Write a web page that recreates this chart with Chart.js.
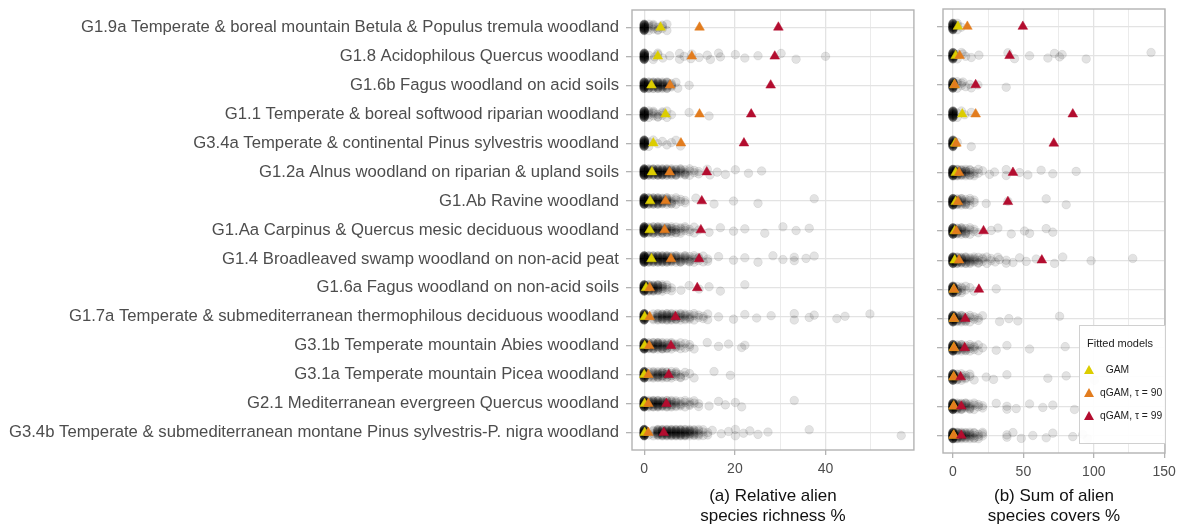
<!DOCTYPE html>
<html>
<head>
<meta charset="utf-8">
<script src="https://cdn.jsdelivr.net/npm/chart.js@4.4.0/dist/chart.umd.min.js"></script>
<style>
  html, body { margin: 0; padding: 0; background: #fff; }
  #wrap { position: relative; width: 1177px; height: 529px; overflow: hidden; font-family: 'Liberation Sans', Arial, sans-serif; }
  #cRich { position: absolute; left: 0; top: 0; }
  #cCover { position: absolute; left: 920px; top: 0; }
  #legend { position: absolute; left: 1079px; top: 325px; width: 85px; height: 117px; border: 1px solid #d0d0d0; background: rgba(255,255,255,0.92); }
  #legend .ttl { position: absolute; left: 7px; top: 11px; font-size: 11px; color: #1a1a1a; }
  #legend .item { position: absolute; left: 4px; height: 14px; font-size: 10.3px; color: #222; line-height: 14px; white-space: nowrap; }
  #legend .tri { display: inline-block; width: 0; height: 0; border-left: 5px solid transparent; border-right: 5px solid transparent; border-bottom-width: 9px; border-bottom-style: solid; vertical-align: -1px; margin-right: 6px; }
</style>
</head>
<body>
<div id="wrap">
  <canvas id="cRich" width="920" height="529"></canvas>
  <canvas id="cCover" width="257" height="529"></canvas>
  <div id="legend">
    <div class="ttl">Fitted models</div>
    <div class="item" style="top:37px"><span class="tri" style="border-bottom-color:#dccd00"></span>&nbsp;&nbsp;GAM</div>
    <div class="item" style="top:60px"><span class="tri" style="border-bottom-color:#e27c1e"></span>qGAM, τ = 90</div>
    <div class="item" style="top:83px"><span class="tri" style="border-bottom-color:#b30d2f"></span>qGAM, τ = 99</div>
  </div>
</div>
<script>
var HABITATS = [
  'G1.9a Temperate & boreal mountain Betula & Populus tremula woodland',
  'G1.8 Acidophilous Quercus woodland',
  'G1.6b Fagus woodland on acid soils',
  'G1.1 Temperate & boreal softwood riparian woodland',
  'G3.4a Temperate & continental Pinus sylvestris woodland',
  'G1.2a Alnus woodland on riparian & upland soils',
  'G1.Ab Ravine woodland',
  'G1.Aa Carpinus & Quercus mesic deciduous woodland',
  'G1.4 Broadleaved swamp woodland on non-acid peat',
  'G1.6a Fagus woodland on non-acid soils',
  'G1.7a Temperate & submediterranean thermophilous deciduous woodland',
  'G3.1b Temperate mountain Abies woodland',
  'G3.1a Temperate mountain Picea woodland',
  'G2.1 Mediterranean evergreen Quercus woodland',
  'G3.4b Temperate & submediterranean montane Pinus sylvestris-P. nigra woodland'
];

// (a) relative alien species richness %
// plot counts read per 1 % bin (0, 1, 2, ...), plus single plots further out
var RICH_BIN = 1;
var RICH_COUNTS = [
  [30, 4, 4, 3, 3, 2],
  [30, 1, 1, 1],
  [30, 11, 12, 12, 11, 9, 4, 1],
  [30, 4, 4, 3, 3, 2, 1],
  [30, 2, 1, 1, 1, 1, 1, 1, 1],
  [35, 14, 15, 15, 14, 12, 10, 8, 6, 5, 3, 2, 2],
  [35, 12, 13, 12, 10, 8, 5, 3, 2, 2],
  [35, 9, 10, 10, 9, 8, 7, 5, 4, 3, 2, 2, 1],
  [35, 12, 13, 13, 13, 12, 10, 8, 7, 6, 5, 4, 3, 2, 2],
  [35, 11, 12, 10, 6, 3, 2],
  [35, 0, 4, 8, 9, 9, 8, 7, 6, 5, 4, 3, 2, 2, 2],
  [35, 9, 10, 10, 9, 7, 5, 4, 3, 2, 2, 1],
  [35, 4, 7, 8, 8, 6, 5, 4, 3, 2, 1, 1],
  [40, 9, 12, 12, 10, 9, 7, 5, 4, 3, 3, 2, 2],
  [40, 1, 4, 12, 13, 13, 13, 13, 12, 11, 9, 7, 5, 3, 2, 1]
];
var RICH_SINGLE = [
  [],
  [2.3, 3, 4.1, 5.6, 7.8, 7.8, 8.8, 10.3, 10.5, 12.1, 13.9, 14.6, 16.4, 16.8, 20.1, 22.2, 25.1, 30.2, 33.5, 40],
  [7.4, 9.9],
  [9.9, 14.3],
  [],
  [13.9, 14.5, 16.1, 17.9, 20.1, 23, 25.9],
  [11.4, 15.4, 19.7, 25.1, 37.5],
  [14.3, 16.8, 19.7, 22.2, 26.6, 30.6, 33.5, 36.4],
  [16.4, 19.7, 22.2, 25.1, 28.4, 30.6, 33.1, 33.1, 35.7, 37.5],
  [8.1, 9.9, 12.1, 14.3, 16.8, 22.2],
  [16.4, 19.7, 22.2, 24.8, 28, 33.1, 33.1, 36.4, 37.5, 42.5, 44.3, 49.8],
  [13.9, 16.4, 18.6, 21.5, 22.2],
  [15.4, 19],
  [14.3, 16.4, 17.9, 20.1, 21.5, 33.1],
  [17, 18.6, 20.1, 20.1, 21.9, 23.3, 25.1, 27.3, 36.4, 56.7]
];
var RICH_GAM = [3.6, 3.0, 1.6, 4.7, 2.0, 1.7, 1.3, 1.2, 1.6, 0.4, 0.1, 0.1, 0.0, 0.1, 0.1];
var RICH_Q90 = [12.2, 10.5, 5.7, 12.2, 8.1, 5.6, 4.7, 4.5, 5.9, 1.2, 1.2, 1.1, 0.9, 0.9, 0.9];
var RICH_Q99 = [29.6, 28.8, 27.9, 23.6, 22.0, 13.8, 12.7, 12.5, 12.1, 11.7, 6.9, 5.9, 5.4, 4.9, 4.3];

// (b) sum of alien species covers %, bins of 3 %
var COVER_BIN = 3;
var COVER_COUNTS = [
  [30, 3, 1],
  [30, 2, 1, 1],
  [30, 3, 2, 1, 1],
  [30, 2, 1],
  [30, 1],
  [35, 12, 9, 7, 5, 3, 2, 1],
  [35, 9, 7, 5, 3, 2],
  [35, 9, 7, 5, 3, 2, 1],
  [35, 12, 10, 8, 6, 5, 4, 3, 2, 2, 1, 1],
  [35, 6, 4, 2, 1, 1],
  [35, 9, 7, 5, 3, 2, 2, 1],
  [35, 9, 7, 5, 4, 3, 2, 1],
  [35, 7, 4, 3, 2, 1],
  [40, 10, 8, 6, 5, 3, 2, 2],
  [40, 12, 10, 8, 6, 5, 3, 3]
];
var COVER_SINGLE = [
  [],
  [7.1, 13, 18.4, 39, 43.7, 54.4, 67.4, 72.1, 75.7, 77.5, 94.6, 140.7],
  [7.1, 13, 17.7, 37.8],
  [8.3, 13],
  [13],
  [26, 29.5, 37.8, 37.8, 47.3, 53.2, 62.6, 70.9, 87.5],
  [23.6, 39, 66.2, 80.4],
  [27.2, 31.9, 41.4, 50.8, 54.4, 66.2, 70.9],
  [31.9, 37.8, 37.8, 42.6, 47.3, 52, 59.1, 72.1, 78, 98.1, 127.7],
  [30.7],
  [33.1, 39.7, 46.1, 75.7],
  [30.7, 38.3, 54.4, 79.7],
  [23.6, 28.8, 38.3, 67.4, 80.4, 100.5],
  [30.7, 38.3, 38.3, 44.9, 54.4, 63.8, 70.9, 86.3],
  [38.3, 38.3, 42.6, 48.5, 56.7, 66.2, 70.9, 85.1, 92.2, 95.7]
];
var COVER_GAM = [3.5, 1.9, 1.0, 6.6, 1.5, 1.9, 1.9, 1.2, 1.2, 0.5, 0.5, 0.5, 0.5, 0.5, 0.5];
var COVER_Q90 = [10.2, 4.7, 1.2, 16.1, 2.4, 4.3, 3.5, 2.4, 4.3, 0.7, 0.7, 0.7, 0.5, 0.5, 0.5];
var COVER_Q99 = [49.6, 40.2, 16.1, 85.1, 71.6, 42.6, 39.0, 21.7, 63.1, 18.4, 8.7, 8.3, 5.4, 5.9, 5.9];

var RICH_TICKS = [0, 10, 20, 30, 40, 50];
var COVER_TICKS = [0, 25, 50, 75, 100, 125, 150];

var COL_GAM = '#dccd00';
var COL_Q90 = '#e27c1e';
var COL_Q99 = '#b30d2f';
var FONT = "'Liberation Sans', Arial, sans-serif";
// small fixed vertical spread so overlapping plots read as a band (like geom_jitter)
var SPREAD = [0, 0.08, -0.08, 0.04, -0.04, 0.11, -0.11, 0.02, -0.06, 0.06, -0.02, -0.1, 0.1];

Chart.defaults.font.family = FONT;
Chart.defaults.animation = false;

function cloudPoints(counts, singles, bin) {
  var pts = [];
  counts.forEach(function (row, r) {
    var k = 0;
    row.forEach(function (n, b) {
      for (var j = 0; j < n; j++) { pts.push({ x: b * bin, y: r + SPREAD[k % SPREAD.length] }); k++; }
    });
    singles[r].forEach(function (v) { pts.push({ x: v, y: r + SPREAD[k % SPREAD.length] }); k++; });
  });
  return pts;
}

function fitted(values, color, order) {
  return {
    data: values.map(function (v, i) { return { x: v, y: i }; }),
    pointStyle: 'triangle', pointRadius: 5.6, pointHoverRadius: 5.6,
    backgroundColor: color, borderColor: color, borderWidth: 0.5, order: order
  };
}

var panelBorder = {
  id: 'panelBorder',
  afterDatasetsDraw: function (chart) {
    var a = chart.chartArea, ctx = chart.ctx;
    ctx.save();
    ctx.strokeStyle = '#b3b3b3';
    ctx.lineWidth = 1.4;
    ctx.strokeRect(a.left, a.top, a.right - a.left, a.bottom - a.top);
    ctx.restore();
  }
};

function makePanel(canvas, o) {
  return new Chart(canvas.getContext('2d'), {
    type: 'scatter',
    data: {
      datasets: [
        fitted(o.q99, COL_Q99, 1),
        fitted(o.q90, COL_Q90, 2),
        fitted(o.gam, COL_GAM, 3),
        {
          data: cloudPoints(o.counts, o.singles, o.bin),
          pointRadius: 4.3, pointHoverRadius: 4.3,
          backgroundColor: 'rgba(0,0,0,0.11)', borderColor: 'rgba(0,0,0,0.07)', borderWidth: 1, order: 4
        }
      ]
    },
    options: {
      responsive: false,
      layout: { padding: o.padding },
      plugins: { legend: { display: false }, tooltip: { enabled: false } },
      scales: {
        x: {
          type: 'linear', min: o.min, max: o.max,
          afterBuildTicks: function (s) { s.ticks = o.ticks.map(function (v) { return { value: v }; }); },
          afterFit: function (s) { s.height = o.xHeight; s.paddingLeft = 0; s.paddingRight = 0; },
          border: { display: false },
          grid: {
            color: '#e3e3e3',
            lineWidth: function (c) { return c.tick && c.tick.value % o.major === 0 ? 1.3 : 0.7; },
            tickColor: function (c) { return c.tick && c.tick.value % o.major === 0 ? '#b3b3b3' : 'rgba(0,0,0,0)'; },
            tickLength: 5
          },
          ticks: {
            autoSkip: false, maxRotation: 0, padding: 6, color: '#4d4d4d', font: { size: 14 },
            callback: function (v) { return v % o.major === 0 ? String(v) : ''; }
          },
          title: { display: true, text: o.title, color: '#111', font: { size: 17, lineHeight: 1.2 }, padding: { top: 0, bottom: 2 } }
        },
        y: {
          type: 'linear', reverse: true, min: -0.6, max: 14.6,
          afterBuildTicks: function (s) { s.ticks = HABITATS.map(function (h, i) { return { value: i }; }); },
          afterFit: function (s) { s.width = o.yWidth; s.paddingTop = 0; s.paddingBottom = 0; },
          border: { display: false },
          grid: { color: '#e3e3e3', lineWidth: 1.3, tickColor: '#b3b3b3', tickLength: 6 },
          ticks: {
            autoSkip: false, padding: 7, color: '#4d4d4d', font: { size: 16.7 },
            callback: function (v) { return o.labels ? HABITATS[v] : ''; }
          }
        }
      }
    },
    plugins: [panelBorder]
  });
}

makePanel(document.getElementById('cRich'), {
  counts: RICH_COUNTS, singles: RICH_SINGLE, bin: RICH_BIN,
  gam: RICH_GAM, q90: RICH_Q90, q99: RICH_Q99,
  min: -2.7, max: 59.5, ticks: RICH_TICKS, major: 20,
  title: ['(a) Relative alien', 'species richness %'],
  labels: true, yWidth: 632, xHeight: 79,
  padding: { top: 10, right: 2, bottom: 0, left: 0 }
});

makePanel(document.getElementById('cCover'), {
  counts: COVER_COUNTS, singles: COVER_SINGLE, bin: COVER_BIN,
  gam: COVER_GAM, q90: COVER_Q90, q99: COVER_Q99,
  min: -7.1, max: 150.6, ticks: COVER_TICKS, major: 50,
  title: ['(b) Sum of alien', 'species covers %'],
  labels: false, yWidth: 23, xHeight: 76,
  padding: { top: 9, right: 12, bottom: 0, left: 0 }
});
</script>
</body>
</html>
